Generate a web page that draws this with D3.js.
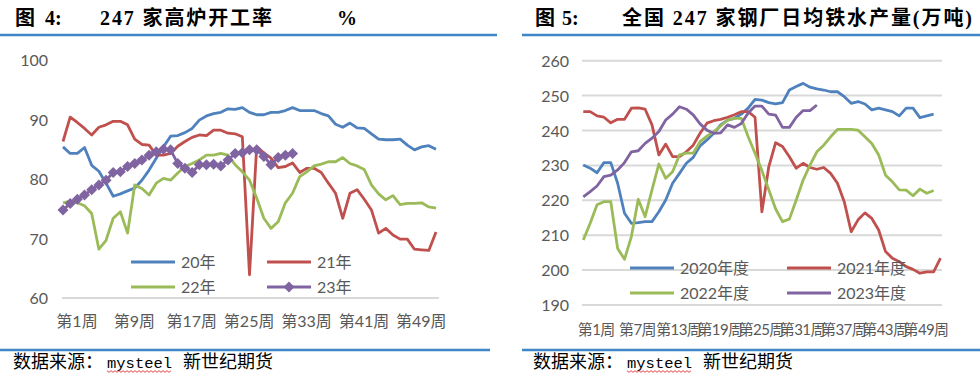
<!DOCTYPE html>
<html>
<head>
<meta charset="utf-8">
<script src="https://cdn.jsdelivr.net/npm/d3@7"></script>
<style>
  body { margin: 0; background: #fff; }
  svg { display: block; }
</style>
</head>
<body>
<div id="chart"></div>
<script>
const width = 980;
const height = 379;

// fig 4: blast furnace operating rate (%), by week
const rate20 = [85.4, 84.3, 84.3, 85.3, 82.3, 81.3, 79.3, 77.1, 77.5, 78.0, 78.5, 79.8, 81.5, 83.5, 85.4, 87.2, 87.3, 87.8, 88.5, 89.9, 90.6, 91.0, 91.2, 91.8, 91.7, 92.0, 91.2, 90.8, 90.8, 91.2, 91.2, 91.5, 92.0, 91.5, 91.5, 91.5, 91.0, 90.6, 89.2, 88.7, 89.4, 88.6, 88.5, 87.6, 86.7, 86.6, 86.6, 86.7, 85.7, 84.9, 85.4, 85.6, 85.0];
const rate21 = [86.3, 90.4, 89.5, 88.5, 87.4, 88.7, 89.1, 89.7, 89.7, 89.1, 86.7, 85.8, 85.7, 84.0, 84.0, 84.3, 85.5, 86.3, 87.0, 87.4, 87.3, 88.2, 88.2, 87.7, 87.6, 87.1, 63.9, 85.4, 84.4, 83.5, 81.9, 82.1, 82.7, 81.1, 81.8, 81.8, 81.1, 79.3, 77.6, 73.4, 77.6, 78.2, 76.6, 74.8, 70.9, 71.7, 70.6, 69.9, 69.9, 68.2, 68.1, 68.0, 71.1];
const rate22 = [76.0, 76.3, 76.0, 75.5, 74.2, 68.2, 69.7, 73.4, 74.5, 70.9, 79.0, 78.4, 77.3, 79.3, 80.1, 79.8, 81.0, 82.1, 82.6, 83.2, 84.0, 84.0, 84.3, 84.0, 82.4, 81.2, 79.8, 76.8, 73.4, 71.7, 72.8, 76.0, 77.6, 80.4, 81.2, 82.2, 82.5, 82.9, 82.9, 83.6, 82.6, 82.2, 81.6, 79.0, 77.5, 76.5, 77.2, 75.7, 75.9, 75.9, 76.0, 75.3, 75.1];
const rate23 = [74.8, 75.9, 76.6, 77.3, 78.2, 79.0, 79.8, 81.1, 81.2, 82.1, 82.6, 83.2, 84.0, 84.6, 85.0, 84.9, 82.6, 81.8, 81.1, 82.4, 82.4, 82.5, 82.2, 83.2, 84.3, 84.4, 84.9, 84.9, 83.8, 82.4, 83.6, 84.0, 84.3];
const rateTicks = [60, 70, 80, 90, 100];
const rateLabelWeeks = [1, 9, 17, 25, 33, 41, 49];

// fig 5: daily hot metal output (10k t), by week
const hot2020 = [230.1, 229.2, 227.9, 230.8, 230.8, 224.9, 216.3, 213.4, 213.6, 213.9, 213.9, 216.7, 220.1, 224.9, 227.7, 230.6, 232.3, 235.6, 237.3, 239.2, 241.6, 243.0, 243.5, 244.7, 246.4, 248.9, 248.7, 248.0, 247.6, 248.0, 251.6, 252.6, 253.5, 252.4, 251.9, 251.6, 251.1, 251.1, 249.7, 247.8, 248.3, 247.6, 245.9, 246.4, 245.9, 245.4, 244.2, 246.4, 246.4, 243.7, 244.2, 244.7];
const hot2021 = [245.4, 245.4, 244.2, 243.8, 242.2, 243.2, 243.2, 246.4, 246.5, 246.1, 241.6, 233.0, 236.1, 232.5, 232.5, 233.9, 235.8, 239.2, 242.1, 242.8, 243.2, 243.8, 244.5, 245.4, 245.4, 243.8, 216.7, 229.6, 236.5, 235.4, 232.5, 229.2, 230.6, 229.4, 228.9, 229.4, 227.7, 224.9, 219.5, 211.0, 214.4, 216.4, 214.8, 211.5, 205.3, 203.4, 202.4, 201.0, 200.2, 199.1, 199.5, 199.5, 203.4];
const hot2022 = [208.6, 213.4, 218.7, 219.6, 219.6, 206.2, 203.1, 209.6, 220.3, 215.3, 223.0, 230.4, 226.3, 228.2, 233.0, 233.5, 233.5, 236.8, 238.4, 239.7, 241.3, 243.0, 243.5, 243.5, 238.2, 233.5, 228.5, 223.0, 217.5, 213.9, 214.6, 220.1, 225.8, 230.1, 233.9, 235.8, 238.2, 240.3, 240.3, 240.3, 240.1, 238.2, 236.3, 233.0, 227.2, 225.3, 223.0, 222.9, 221.3, 223.2, 222.0, 222.8];
const hot2023 = [221.0, 222.5, 224.1, 226.8, 227.2, 228.7, 230.8, 233.9, 234.2, 236.3, 237.8, 239.7, 243.0, 244.7, 246.8, 246.1, 244.5, 241.9, 240.1, 239.2, 239.3, 241.6, 240.9, 242.0, 245.0, 247.0, 247.0, 244.7, 244.4, 240.9, 240.9, 243.8, 245.7, 245.7, 247.3];
const hotTicks = [190, 200, 210, 220, 230, 240, 250, 260];
const hotLabelWeeks = [1, 7, 13, 19, 25, 31, 37, 43, 49];

const colors = { blue: "#4f81bd", red: "#c0504d", green: "#9bbb59", purple: "#8064a2" };
const tickFont = "Lato, 'Noto Sans CJK SC', sans-serif";
const cjkFont = "'Noto Sans CJK SC', sans-serif";
const titleFont = "'Liberation Serif', 'Noto Sans CJK SC', serif";
const rule = "#3e86c6";

const svg = d3
  .select("#chart")
  .append("svg")
  .attr("width", width)
  .attr("height", height)
  .style("background", "#fff");

const diamond = (r) => `M0,${-r}L${r},0L0,${r}L${-r},0Z`;

function drawSeries(g, x, y, values, color, marker) {
  const line = d3
    .line()
    .x((d, i) => x(i + 1))
    .y((d) => y(d));
  g.append("path")
    .datum(values)
    .attr("fill", "none")
    .attr("stroke", color)
    .attr("stroke-width", 2.8)
    .attr("stroke-linejoin", "round")
    .attr("d", line);
  if (marker) {
    g.selectAll(null)
      .data(values)
      .enter()
      .append("path")
      .attr("d", diamond(5.5))
      .attr("transform", (d, i) => `translate(${x(i + 1)},${y(d)})`)
      .attr("fill", color);
  }
}

function drawLegend(g, items) {
  items.forEach((it) => {
    g.append("line")
      .attr("x1", it.x)
      .attr("x2", it.x + 44)
      .attr("y1", it.y)
      .attr("y2", it.y)
      .attr("stroke", it.color)
      .attr("stroke-width", 2.8);
    if (it.marker) {
      g.append("path")
        .attr("d", diamond(5.5))
        .attr("transform", `translate(${it.x + 22},${it.y})`)
        .attr("fill", it.color);
    }
    g.append("text")
      .attr("x", it.x + 50)
      .attr("y", it.y + 6)
      .attr("font-family", tickFont)
      .attr("font-size", 16)
      .attr("fill", "#595959")
      .text(it.label);
  });
}

function drawTitle(parts) {
  parts.forEach((p) => {
    const t = svg
      .append("text")
      .attr("x", p.x)
      .attr("y", 25)
      .attr("font-family", titleFont)
      .attr("font-weight", "bold")
      .attr("font-size", 20)
      .attr("fill", "#000")
      .text(p.text);
    if (p.len) t.attr("textLength", p.len).attr("lengthAdjust", "spacing");
  });
}

function drawSource(x0) {
  svg.append("text")
    .attr("x", x0 + 13)
    .attr("y", 368)
    .attr("font-family", cjkFont)
    .attr("font-size", 18)
    .text("数据来源：");
  svg.append("text")
    .attr("x", x0 + 107)
    .attr("y", 368)
    .attr("font-family", "'Liberation Mono', monospace")
    .attr("font-size", 15.5)
    .text("mysteel");
  svg.append("text")
    .attr("x", x0 + 183)
    .attr("y", 368)
    .attr("font-family", cjkFont)
    .attr("font-size", 18)
    .text("新世纪期货");
  // spell-check squiggle under "mysteel"
  const pts = d3.range(0, 33).map((k) => [x0 + 107 + k * 2, 371 + (k % 2 ? 1.3 : -0.3)]);
  svg.append("path")
    .attr("d", d3.line()(pts))
    .attr("fill", "none")
    .attr("stroke", "#e03030")
    .attr("stroke-width", 0.9);
}

// ---------- fig 4 ----------
const xL = d3.scaleLinear().domain([1, 53]).range([63, 436]);
const yL = d3.scaleLinear().domain([60, 100]).range([298, 60]);
const left = svg.append("g");

drawTitle([
  { text: "图", x: 15 },
  { text: "4:", x: 45 },
  { text: "247 家高炉开工率", x: 100, len: 172 },
  { text: "%", x: 337 },
]);

left.append("line")
  .attr("x1", 0).attr("x2", 497).attr("y1", 35).attr("y2", 35)
  .attr("stroke", rule).attr("stroke-width", 2.5);
left.append("line")
  .attr("x1", 0).attr("x2", 490).attr("y1", 350).attr("y2", 350)
  .attr("stroke", rule).attr("stroke-width", 2.5);

left.append("line")
  .attr("x1", 62).attr("x2", 439).attr("y1", yL(60)).attr("y2", yL(60))
  .attr("stroke", "#d9d9d9").attr("stroke-width", 2);

left.selectAll(".ytick")
  .data(rateTicks)
  .enter()
  .append("text")
  .attr("x", 48)
  .attr("y", (d) => yL(d) + 6)
  .attr("text-anchor", "end")
  .attr("font-family", tickFont)
  .attr("font-size", 16)
  .attr("fill", "#595959")
  .text((d) => d);

left.selectAll(".xtick")
  .data(rateLabelWeeks)
  .enter()
  .append("text")
  .attr("x", (d) => xL(d) + 14)
  .attr("y", 327)
  .attr("text-anchor", "middle")
  .attr("font-family", tickFont)
  .attr("font-size", 16)
  .attr("fill", "#595959")
  .text((d) => `第${d}周`);

drawSeries(left, xL, yL, rate20, colors.blue);
drawSeries(left, xL, yL, rate21, colors.red);
drawSeries(left, xL, yL, rate22, colors.green);
drawSeries(left, xL, yL, rate23, colors.purple, true);

drawLegend(left, [
  { label: "20年", x: 131, y: 262, color: colors.blue },
  { label: "22年", x: 131, y: 287, color: colors.green },
  { label: "21年", x: 267, y: 262, color: colors.red },
  { label: "23年", x: 267, y: 287, color: colors.purple, marker: true },
]);

drawSource(0);

// ---------- fig 5 ----------
const xR = d3.scaleLinear().domain([1, 53]).range([583.3, 940.5]);
const yR = d3.scaleLinear().domain([190, 260]).range([305, 60.7]);
const right = svg.append("g");

drawTitle([
  { text: "图", x: 535 },
  { text: "5:", x: 562 },
  { text: "全国 247 家钢厂日均铁水产量(万吨)", x: 622, len: 350 },
]);

right.append("line")
  .attr("x1", 522).attr("x2", 980).attr("y1", 35).attr("y2", 35)
  .attr("stroke", rule).attr("stroke-width", 2.5);
right.append("line")
  .attr("x1", 522).attr("x2", 980).attr("y1", 350).attr("y2", 350)
  .attr("stroke", rule).attr("stroke-width", 2.5);

right.selectAll(".grid")
  .data(hotTicks)
  .enter()
  .append("line")
  .attr("x1", 582)
  .attr("x2", 942)
  .attr("y1", (d) => yR(d))
  .attr("y2", (d) => yR(d))
  .attr("stroke", "#d9d9d9")
  .attr("stroke-width", 2);

right.selectAll(".ytick")
  .data(hotTicks)
  .enter()
  .append("text")
  .attr("x", 569)
  .attr("y", (d) => yR(d) + 6)
  .attr("text-anchor", "end")
  .attr("font-family", tickFont)
  .attr("font-size", 16)
  .attr("fill", "#595959")
  .text((d) => d);

// labels are tightly packed here, as in the source chart
right.selectAll(".xtick")
  .data(hotLabelWeeks)
  .enter()
  .append("text")
  .attr("x", (d) => xR(d) + 13)
  .attr("y", 335)
  .attr("text-anchor", "middle")
  .attr("font-family", tickFont)
  .attr("font-size", 15)
  .attr("letter-spacing", -0.6)
  .attr("fill", "#595959")
  .text((d) => `第${d}周`);

drawSeries(right, xR, yR, hot2020, colors.blue);
drawSeries(right, xR, yR, hot2021, colors.red);
drawSeries(right, xR, yR, hot2022, colors.green);
drawSeries(right, xR, yR, hot2023, colors.purple);

drawLegend(right, [
  { label: "2020年度", x: 630, y: 268, color: colors.blue },
  { label: "2022年度", x: 630, y: 293, color: colors.green },
  { label: "2021年度", x: 787, y: 268, color: colors.red },
  { label: "2023年度", x: 787, y: 293, color: colors.purple },
]);

drawSource(520);
</script>
</body>
</html>
